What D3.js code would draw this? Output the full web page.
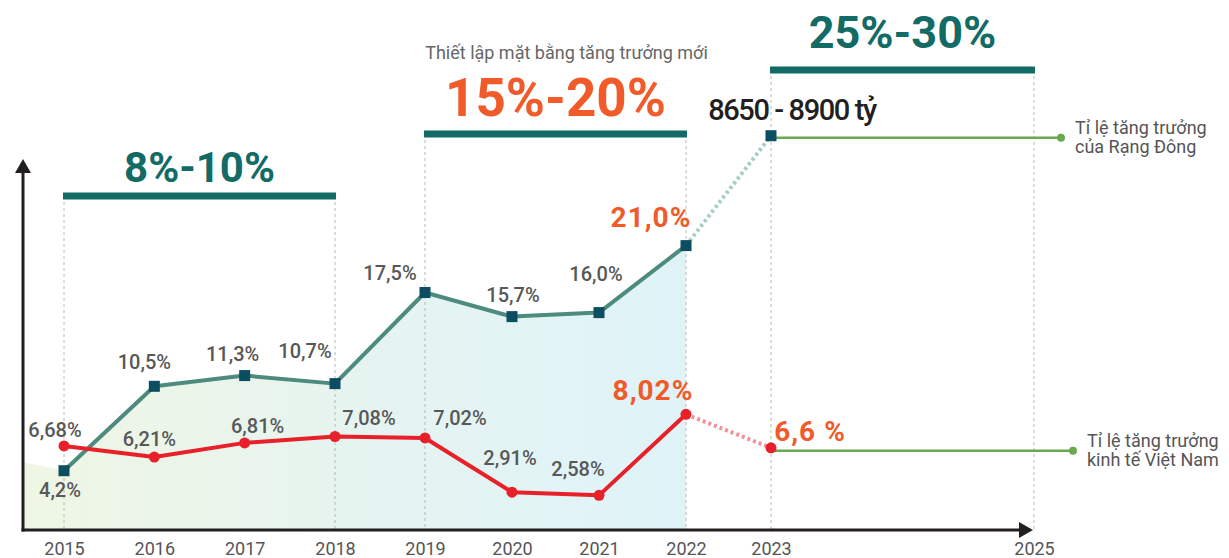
<!DOCTYPE html>
<html>
<head>
<meta charset="utf-8">
<script src="https://cdn.jsdelivr.net/npm/d3@7"></script>
<style>
    body { margin: 0; background: #fff; }
    svg { display: block; font-family: Roboto, "Noto Sans", sans-serif; }
</style>
</head>
<body>
<div class="growth-chart"></div>
<script>
// Data
const years = [2015, 2016, 2017, 2018, 2019, 2020, 2021, 2022];
const tickYears = [2015, 2016, 2017, 2018, 2019, 2020, 2021, 2022, 2023, 2025];
const rangDong = [4.2, 10.5, 11.3, 10.7, 17.5, 15.7, 16.0, 21.0];
const rangDongLabels = ["4,2%", "10,5%", "11,3%", "10,7%", "17,5%", "15,7%", "16,0%", "21,0%"];
const vietnam = [6.68, 6.21, 6.81, 7.08, 7.02, 2.91, 2.58, 8.02];
const vietnamLabels = ["6,68%", "6,21%", "6,81%", "7,08%", "7,02%", "2,91%", "2,58%", "8,02%"];
const forecastYear = 2023;
const rangDongForecast = 29.2;
const rangDongForecastLabel = "8650 - 8900 tỷ";
const vietnamForecast = 6.6;
const vietnamForecastLabel = "6,6 %";
const periodStart = [2015, 2019, 2023];
const periodEnd = [2018, 2022, 2025];
const periodTargets = ["8%-10%", "15%-20%", "25%-30%"];
const subtitle = "Thiết lập mặt bằng tăng trưởng mới";
const legendRangDong = ["Tỉ lệ tăng trưởng", "của Rạng Đông"];
const legendVietnam = ["Tỉ lệ tăng trưởng", "kinh tế Việt Nam"];

// Layout
const width = 1229;
const height = 558;
const axisX = 23;
const axisY = 530;

// label nudges (dx, dy) relative to each point
const rangDongNudge = [[-4, 26], [-10, -17], [-12, -15], [-30, -26], [-35, -13], [1, -15], [-3, -32], [-35, -19]];
const vietnamNudge = [[-9, -9], [-5, -11], [13, -10], [34, -12], [35, -13], [-2, -27], [-21, -19], [-33, -14]];
const periodBarY = [196, 134, 70];
const periodFont = [42, 53, 45];
const periodLift = [14, 18, 22];
const periodColor = ["#136b65", "#f15a29", "#136b65"];

const teal = "#136b65";
const orange = "#f15a29";
const greenLine = "#4c8b7d";
const squareFill = "#0c4d62";
const redLine = "#e8202a";
const legendGreen = "#6aa84f";
const labelGray = "#585858";

const svg = d3
    .select(".growth-chart")
    .append("svg")
    .attr("width", width)
    .attr("height", height);

// the years are not evenly spaced in the original drawing
const x = d3
    .scaleLinear()
    .domain([2015, 2018, 2019, 2022, 2023, 2025])
    .range([64, 335, 425, 686, 771, 1034]);
const yGreen = d3.scaleLinear().domain([0, 30]).range([527, 125]);
const yRed = d3.scaleLinear().domain([2, 6, 8.5]).range([501, 462, 403]);

const greenPts = years.map((yr, i) => ({ year: yr, value: rangDong[i], label: rangDongLabels[i] }));
const redPts = years.map((yr, i) => ({ year: yr, value: vietnam[i], label: vietnamLabels[i] }));

// background fill under the Rang Dong line
const grad = svg
    .append("defs")
    .append("linearGradient")
    .attr("id", "fillGrad")
    .attr("gradientUnits", "userSpaceOnUse")
    .attr("x1", axisX)
    .attr("x2", x(2022))
    .attr("y1", 0)
    .attr("y2", 0);
grad.append("stop").attr("offset", "0%").attr("stop-color", "#eff6e4");
grad.append("stop").attr("offset", "55%").attr("stop-color", "#e5f4f1");
grad.append("stop").attr("offset", "100%").attr("stop-color", "#dff3f8");

const areaPts = [
    [axisX, (yGreen(rangDong[0]) + yRed(vietnam[0])) / 2 + 4],
    ...greenPts.map((d) => [x(d.year), yGreen(d.value)]),
];
svg.append("path")
    .datum(areaPts)
    .attr("fill", "url(#fillGrad)")
    .attr(
        "d",
        d3
            .area()
            .x((d) => d[0])
            .y0(axisY)
            .y1((d) => d[1])
    );

// dashed guides and period bars
periodStart.forEach((s, i) => {
    [s, periodEnd[i]].forEach((yr) => {
        svg.append("line")
            .attr("x1", x(yr))
            .attr("x2", x(yr))
            .attr("y1", periodBarY[i])
            .attr("y2", axisY)
            .attr("stroke", "#b8b8b8")
            .attr("stroke-width", 1)
            .attr("stroke-dasharray", "3,3");
    });
    svg.append("line")
        .attr("x1", x(s) - 1)
        .attr("x2", x(periodEnd[i]) + 1)
        .attr("y1", periodBarY[i])
        .attr("y2", periodBarY[i])
        .attr("stroke", teal)
        .attr("stroke-width", 7);
    svg.append("text")
        .attr("x", (x(s) + x(periodEnd[i])) / 2)
        .attr("y", periodBarY[i] - periodLift[i])
        .attr("text-anchor", "middle")
        .attr("font-size", periodFont[i] + "px")
        .attr("font-weight", "bold")
        .attr("fill", periodColor[i])
        .text(periodTargets[i]);
});

svg.append("text")
    .attr("x", (x(periodStart[1]) + x(periodEnd[1])) / 2 + 11)
    .attr("y", 59)
    .attr("text-anchor", "middle")
    .attr("font-size", "18px")
    .attr("fill", "#666")
    .text(subtitle);

// forecast dotted links
const lastG = greenPts[greenPts.length - 1];
const lastR = redPts[redPts.length - 1];
svg.append("line")
    .attr("x1", x(lastG.year))
    .attr("y1", yGreen(lastG.value))
    .attr("x2", x(forecastYear))
    .attr("y2", yGreen(rangDongForecast))
    .attr("stroke", "#a6cfc4")
    .attr("stroke-width", 4)
    .attr("stroke-dasharray", "3,3");
svg.append("line")
    .attr("x1", x(lastR.year))
    .attr("y1", yRed(lastR.value))
    .attr("x2", x(forecastYear))
    .attr("y2", yRed(vietnamForecast))
    .attr("stroke", "#f2919a")
    .attr("stroke-width", 4)
    .attr("stroke-dasharray", "3,3");

// legend leaders
const legends = [
    { y: yGreen(rangDongForecast) + 2, end: 1061, lines: legendRangDong },
    { y: yRed(vietnamForecast) + 3, end: 1073, lines: legendVietnam },
];
legends.forEach((lg) => {
    svg.append("line")
        .attr("x1", x(forecastYear))
        .attr("x2", lg.end)
        .attr("y1", lg.y)
        .attr("y2", lg.y)
        .attr("stroke", legendGreen)
        .attr("stroke-width", 2.5);
    svg.append("circle")
        .attr("cx", lg.end)
        .attr("cy", lg.y)
        .attr("r", 4)
        .attr("fill", legendGreen);
    svg.append("text")
        .attr("x", lg.end + 14)
        .attr("y", lg.y - 4)
        .attr("font-size", "18px")
        .attr("fill", "#555")
        .selectAll("tspan")
        .data(lg.lines)
        .join("tspan")
        .attr("x", lg.end + 14)
        .attr("dy", (d, i) => (i === 0 ? 0 : 19))
        .text((d) => d);
});

// lines
svg.append("path")
    .datum(greenPts)
    .attr("fill", "none")
    .attr("stroke", greenLine)
    .attr("stroke-width", 4)
    .attr("stroke-linejoin", "round")
    .attr("d", d3.line().x((d) => x(d.year)).y((d) => yGreen(d.value)));

svg.append("path")
    .datum(redPts)
    .attr("fill", "none")
    .attr("stroke", redLine)
    .attr("stroke-width", 4)
    .attr("stroke-linejoin", "round")
    .attr("d", d3.line().x((d) => x(d.year)).y((d) => yRed(d.value)));

// markers
const sq = 11;
svg.append("g")
    .selectAll("rect")
    .data([...greenPts, { year: forecastYear, value: rangDongForecast }])
    .join("rect")
    .attr("x", (d) => x(d.year) - sq / 2)
    .attr("y", (d) => yGreen(d.value) - sq / 2)
    .attr("width", sq)
    .attr("height", sq)
    .attr("fill", squareFill);

svg.append("g")
    .selectAll("circle")
    .data([...redPts, { year: forecastYear, value: vietnamForecast }])
    .join("circle")
    .attr("cx", (d) => x(d.year))
    .attr("cy", (d) => yRed(d.value))
    .attr("r", 5.5)
    .attr("fill", redLine);

// value labels
function valueLabel(d, i, yScale, nudge, isLast) {
    svg.append("text")
        .attr("x", x(d.year) + nudge[i][0])
        .attr("y", yScale(d.value) + nudge[i][1])
        .attr("text-anchor", "middle")
        .attr("font-size", isLast ? "28px" : "20px")
        .attr("font-weight", isLast ? "bold" : 500)
        .attr("letter-spacing", isLast ? "1px" : null)
        .attr("fill", isLast ? orange : labelGray)
        .text(d.label);
}
greenPts.forEach((d, i) => valueLabel(d, i, yGreen, rangDongNudge, i === greenPts.length - 1));
redPts.forEach((d, i) => valueLabel(d, i, yRed, vietnamNudge, i === redPts.length - 1));

svg.append("text")
    .attr("x", x(forecastYear) + 39)
    .attr("y", yRed(vietnamForecast) - 7)
    .attr("text-anchor", "middle")
    .attr("font-size", "28px")
    .attr("font-weight", "bold")
    .attr("letter-spacing", "1px")
    .attr("fill", orange)
    .text(vietnamForecastLabel);

svg.append("text")
    .attr("x", x(forecastYear) + 21)
    .attr("y", yGreen(rangDongForecast) - 16)
    .attr("text-anchor", "middle")
    .attr("font-size", "29px")
    .attr("font-weight", 500)
    .attr("letter-spacing", "-1.4px")
    .attr("fill", "#231f20")
    .text(rangDongForecastLabel);

// axes
svg.append("line")
    .attr("x1", axisX)
    .attr("x2", axisX)
    .attr("y1", axisY + 1.5)
    .attr("y2", 172)
    .attr("stroke", "#231f20")
    .attr("stroke-width", 3);
svg.append("path")
    .attr("d", `M${axisX - 8},173 L${axisX},159 L${axisX + 8},173 Z`)
    .attr("fill", "#231f20");

svg.append("line")
    .attr("x1", axisX - 1.5)
    .attr("x2", 1020)
    .attr("y1", axisY)
    .attr("y2", axisY)
    .attr("stroke", "#231f20")
    .attr("stroke-width", 3);
svg.append("path")
    .attr("d", `M1019,${axisY - 8} L1033,${axisY} L1019,${axisY + 8} Z`)
    .attr("fill", "#231f20");

const xAxis = svg
    .append("g")
    .attr("transform", `translate(0, ${axisY})`)
    .call(
        d3
            .axisBottom(x)
            .tickValues(tickYears)
            .tickFormat(d3.format("d"))
            .tickSize(0)
            .tickPadding(12)
    );
xAxis.select(".domain").remove();
xAxis.selectAll("text")
    .attr("font-family", "Roboto, sans-serif")
    .attr("font-size", "18px")
    .attr("fill", "#555");
</script>
</body>
</html>
